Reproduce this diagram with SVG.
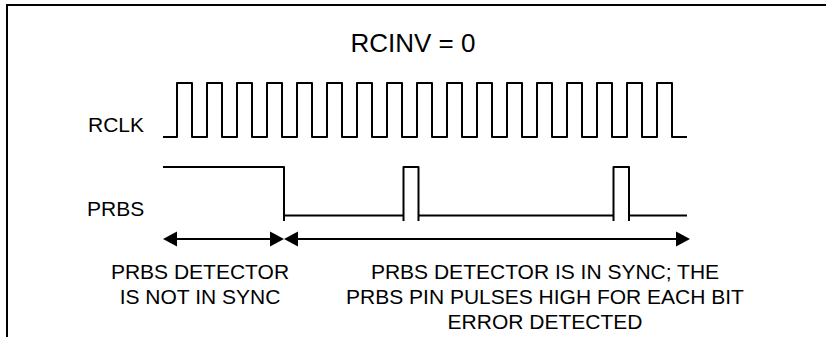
<svg xmlns="http://www.w3.org/2000/svg" width="826" height="337" viewBox="0 0 826 337">
<defs>
<style>
.lbl{font-family:"Liberation Sans",Arial,sans-serif;font-size:21px;fill:#000}
.big{font-family:"Liberation Sans",Arial,sans-serif;font-size:26px;fill:#000}
.wave{fill:none;stroke:#000;stroke-width:2;stroke-linejoin:round;stroke-linecap:butt}
.arr{fill:none;stroke:#000;stroke-width:2}
</style>
<marker id="ah" markerUnits="userSpaceOnUse" markerWidth="15" markerHeight="16" refX="0" refY="7.5" orient="auto-start-reverse" viewBox="0 0 15 15">
<path d="M0,0 L14,7.5 L0,15 z" fill="#000"/>
</marker>
</defs>
<rect width="826" height="337" fill="#fff"/>
<g id="frame">
<path d="M7,340 V5 H830" fill="none" stroke="#000" stroke-width="2"/>
</g>
<g id="title">
<text class="big" x="413" y="52" text-anchor="middle">RCINV = 0</text>
</g>
<g id="rclk">
<text class="lbl" x="88" y="132">RCLK</text>
<path class="wave" d="M163,137 h14 v-54 h15 v54 h15 v-54 h15 v54 h15 v-54 h15 v54 h15 v-54 h15 v54 h15 v-54 h15 v54 h15 v-54 h15 v54 h15 v-54 h15 v54 h15 v-54 h15 v54 h15 v-54 h15 v54 h15 v-54 h15 v54 h15 v-54 h15 v54 h15 v-54 h15 v54 h15 v-54 h15 v54 h15 v-54 h15 v54 h15 v-54 h15 v54 h15 v-54 h15 v54 h15 v-54 h15 v54 h15"/>
</g>
<g id="prbs">
<text class="lbl" x="87" y="216">PRBS</text>
<path class="wave" d="M163,167 H284 V221"/>
<path class="wave" d="M284,215.5 H403.5 M418.5,215.5 H613.5 M629,215.5 H687"/>
<path class="wave" d="M403.5,221 V167 H418.5 V221"/>
<path class="wave" d="M613.5,221 V167 H629 V221"/>
</g>
<g id="connectors">
<line class="arr" x1="177" y1="239" x2="270" y2="239" marker-start="url(#ah)" marker-end="url(#ah)"/>
<line class="arr" x1="298" y1="239" x2="676" y2="239" marker-start="url(#ah)" marker-end="url(#ah)"/>
</g>
<g id="label-not-sync">
<text class="lbl" x="200" y="279" text-anchor="middle">PRBS DETECTOR</text>
<text class="lbl" x="200" y="304" text-anchor="middle">IS NOT IN SYNC</text>
</g>
<g id="label-sync">
<text class="lbl" x="545" y="279" text-anchor="middle">PRBS DETECTOR IS IN SYNC; THE</text>
<text class="lbl" x="545" y="304" text-anchor="middle">PRBS PIN PULSES HIGH FOR EACH BIT</text>
<text class="lbl" x="545" y="328.5" text-anchor="middle">ERROR DETECTED</text>
</g>
</svg>
